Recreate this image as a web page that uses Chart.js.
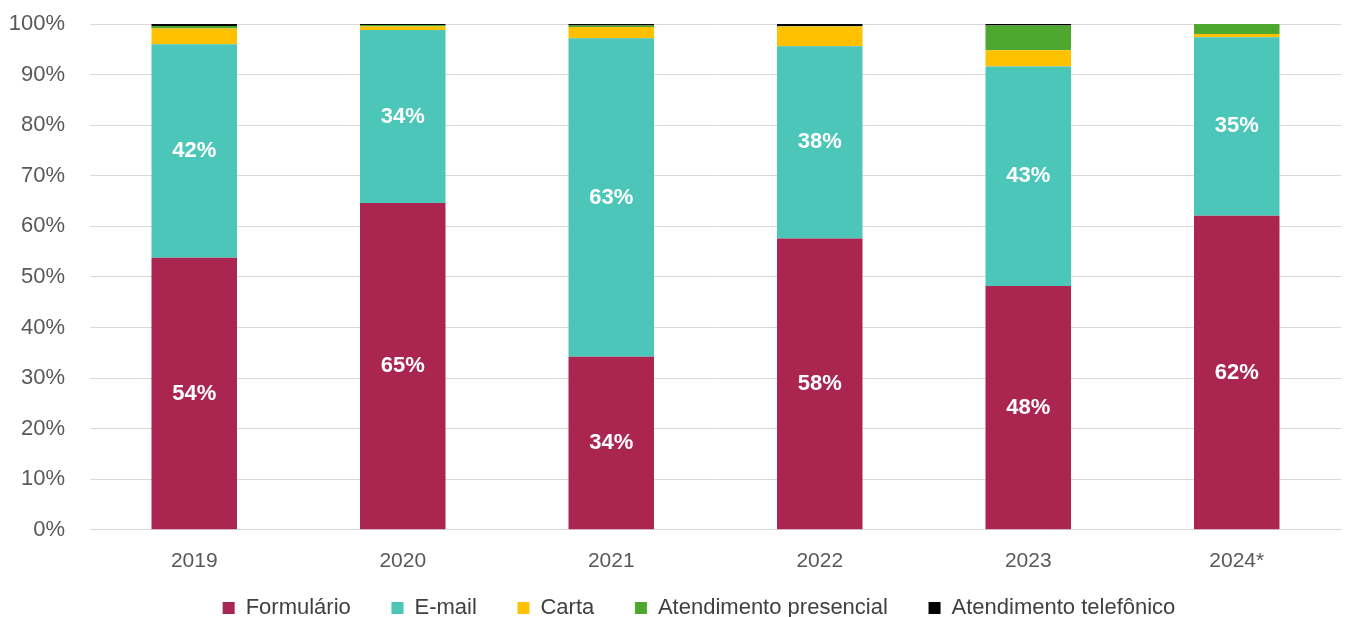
<!DOCTYPE html>
<html>
<head>
<meta charset="utf-8">
<script src="https://cdn.jsdelivr.net/npm/chart.js@4"></script>
<style>
  html, body { margin: 0; padding: 0; background: #fff; overflow: hidden; }
  #wrap { width: 1358px; height: 629px; position: relative; }
</style>
</head>
<body>
<div id="wrap"><canvas id="chart"></canvas></div>
<script>
const years = ['2019', '2020', '2021', '2022', '2023', '2024*']
const formulario = [53.8, 64.6, 34.2, 57.6, 48.2, 62.1]
const email = [42.2, 34.2, 63.0, 38.0, 43.4, 35.3]
const carta = [3.1, 0.7, 2.2, 3.9, 3.2, 0.6]
const presencial = [0.5, 0.3, 0.3, 0.1, 4.9, 2.0]
const telefonico = [0.4, 0.3, 0.3, 0.5, 0.3, 0]

const FONT = 'Liberation Sans'

// white % labels in the middle of the two big segments
const segmentLabels = {
    id: 'segmentLabels',
    afterDatasetsDraw(chart) {
        const ctx = chart.ctx
        ctx.save()
        ctx.font = `bold 22px "${FONT}"`
        ctx.fillStyle = '#ffffff'
        ctx.textAlign = 'center'
        ctx.textBaseline = 'middle'
        ;[0, 1].forEach(i => {
            const meta = chart.getDatasetMeta(i)
            meta.data.forEach((bar, j) => {
                const v = chart.data.datasets[i].data[j]
                const y = (bar.y + bar.base) / 2
                ctx.fillText(Math.round(v) + '%', bar.x, y)
            })
        })
        ctx.restore()
    }
}

// nudge the legend to the right, like the original
const legendShift = {
    id: 'legendShift',
    afterLayout(chart) {
        chart.legend.left += 24
        chart.legend.right += 24
    }
}

const ds = (label, data, color) => ({
    label, data, backgroundColor: color, borderWidth: 0,
    barPercentage: 0.41, categoryPercentage: 1
})

new Chart(document.getElementById('chart').getContext('2d'), {
    type: 'bar',
    data: {
        labels: years,
        datasets: [
            ds('Formulário', formulario, '#AB2551'),
            ds('E-mail', email, '#4BC6B8'),
            ds('Carta', carta, '#FFC000'),
            ds('Atendimento presencial', presencial, '#4EA72E'),
            ds('Atendimento telefônico', telefonico, '#000000')
        ]
    },
    options: {
        responsive: true,
        maintainAspectRatio: false,
        animation: false,
        layout: { padding: { top: 24, right: 17, left: 9, bottom: 0 } },
        plugins: {
            tooltip: { enabled: false },
            legend: {
                position: 'bottom',
                labels: {
                    color: '#404040',
                    font: { family: FONT, size: 22 },
                    boxWidth: 12,
                    boxHeight: 12,
                    padding: 4,
                    generateLabels(chart) {
                        const items = Chart.defaults.plugins.legend.labels.generateLabels(chart)
                        items.forEach((it, i) => { if (i < items.length - 1) it.text += '      ' })
                        return items
                    }
                }
            }
        },
        scales: {
            x: {
                stacked: true,
                grid: { display: false, drawTicks: false },
                border: { color: '#d9d9d9' },
                ticks: { color: '#595959', font: { family: FONT, size: 21 }, padding: 19 }
            },
            y: {
                stacked: true,
                min: 0,
                max: 100,
                border: { display: false },
                grid: { color: '#d9d9d9', drawTicks: false },
                ticks: {
                    stepSize: 10,
                    color: '#595959',
                    font: { family: FONT, size: 22 },
                    padding: 25,
                    callback: v => v + '%'
                },
                afterFit(scale) {
                    scale.width = 81
                    scale.paddingTop = 0
                    scale.paddingBottom = 0
                }
            }
        }
    },
    plugins: [segmentLabels, legendShift]
})
</script>
</body>
</html>
